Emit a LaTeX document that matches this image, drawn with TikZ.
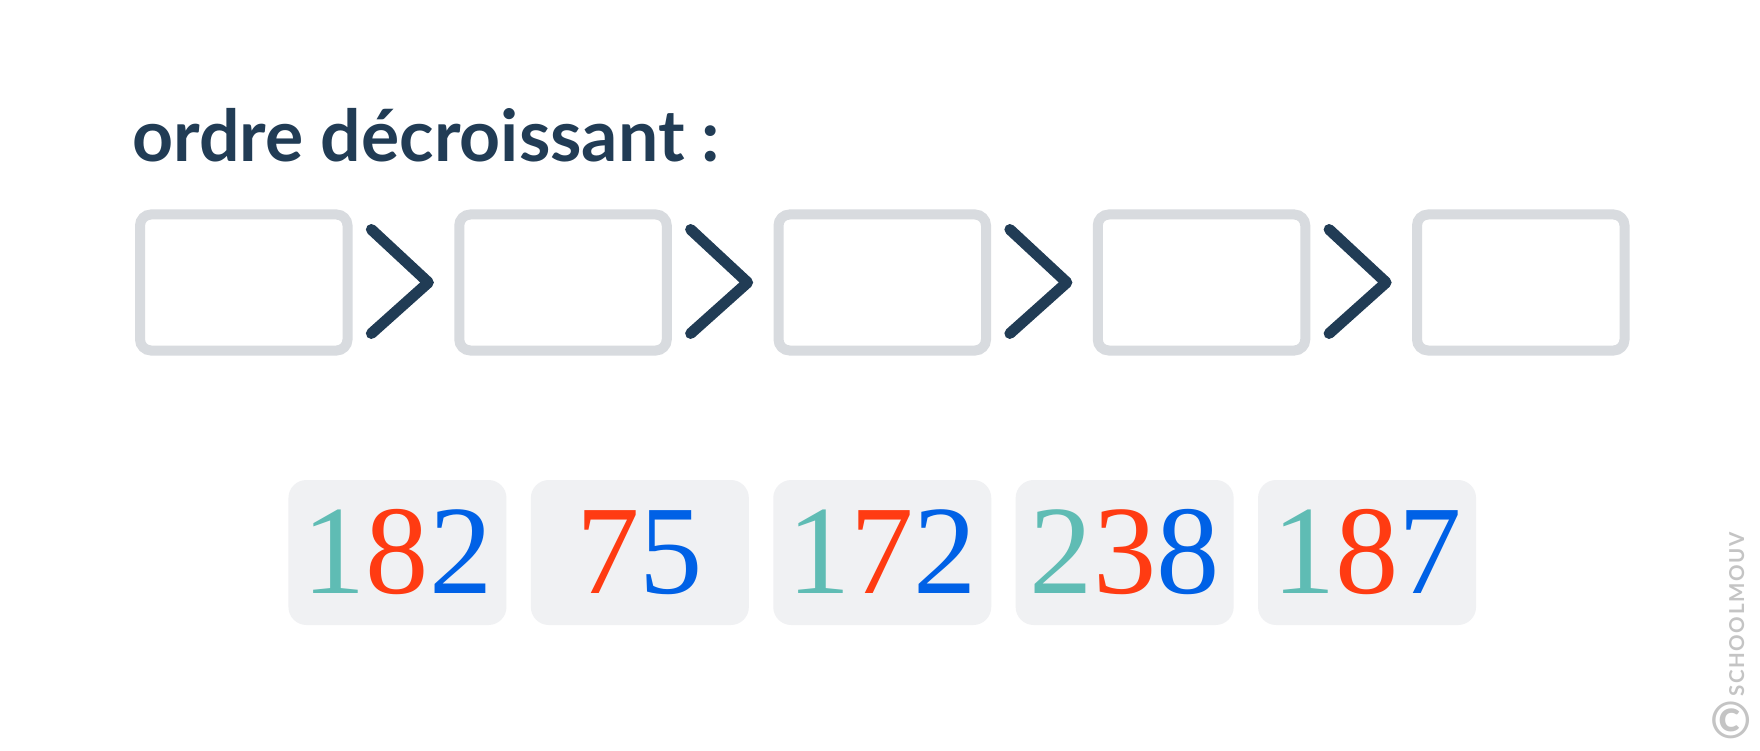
\documentclass[tikz,border=0pt]{standalone}
\usepackage{fontspec}
\setmainfont{Lato}
\newfontfamily\titlefont{Lato}
\newfontfamily\digitfont{Liberation Serif}
\newfontfamily\copyfont[LetterSpace=8]{Lato}
\usetikzlibrary{calc}
\definecolor{navy}{HTML}{213C55}
\definecolor{slotgray}{HTML}{D8DBDF}
\definecolor{cardgray}{HTML}{F0F1F3}
\definecolor{teal}{HTML}{5FBCB4}
\definecolor{redd}{HTML}{FF3B12}
\definecolor{bluee}{HTML}{0061E6}
\definecolor{copy}{HTML}{C4C4C4}
\tikzset{
  slot/.style={draw=slotgray, line width=10pt, rounded corners=11pt, minimum width=207.5pt, minimum height=136pt, inner sep=0pt, fill=white},
  card/.style={fill=cardgray, rounded corners=18pt, minimum width=218pt, minimum height=145pt, inner sep=0pt},
  chev/.style={draw=navy, line width=11pt, line cap=round, line join=round},
  num/.style={font=\digitfont\fontsize{126.6}{126.6}\selectfont, anchor=base, inner sep=0pt},
}
\newcommand{\dT}[1]{\textcolor{teal}{#1}}
\newcommand{\dR}[1]{\textcolor{redd}{#1}}
\newcommand{\dB}[1]{\textcolor{bluee}{#1}}
\begin{document}
\begin{tikzpicture}[x=1pt,y=-1pt]
\path[use as bounding box, fill=white] (0,0) rectangle (1760,751);
% title
\node[anchor=base west, inner sep=0pt, text=navy, font=\titlefont\bfseries\fontsize{71.5}{71.5}\selectfont] (title) at (132,161.7) {ordre décroissant :};
% slots
\foreach \i/\x in {1/243.75, 2/563, 3/882.25, 4/1201.5, 5/1520.75}{
  \node[slot] (s\i) at (\x,282.5) {};
}
% chevrons
\foreach \i/\j in {1/2,2/3,3/4,4/5}{
  \coordinate (m\i) at ($(s\i.east)!0.5!(s\j.west)$);
  \draw[chev] ($(m\i)+(-32,-53)$) -- ($(m\i)+(25,0)$) -- ($(m\i)+(-32,51)$);
}
% cards
\foreach \i/\x in {1/397.45, 2/639.85, 3/882.25, 4/1124.65, 5/1367.05}{
  \node[card] (k\i) at (\x,552.5) {};
}
\node[num] (n1) at ($(k1.center)+(0,40.8)$) {\dT{1}\dR{8}\dB{2}};
\node[num] (n2) at ($(k2.center)+(0,40.8)$) {\dR{7}\dB{5}};
\node[num] (n3) at ($(k3.center)+(0,40.8)$) {\dT{1}\dR{7}\dB{2}};
\node[num] (n4) at ($(k4.center)+(0,40.8)$) {\dT{2}\dR{3}\dB{8}};
\node[num] (n5) at ($(k5.center)+(0,40.8)$) {\dT{1}\dR{8}\dB{7}};
% copyright
\node[inner sep=0pt, text=copy, font=\bfseries\fontsize{50}{50}\selectfont] (cc) at (1731.5,720) {©};
\node[rotate=90, anchor=base west, inner sep=0pt, text=copy, font=\copyfont\bfseries\fontsize{20.5}{20.5}\selectfont] (cr) at (1744,697) {SCHOOLMOUV};
\end{tikzpicture}
\end{document}
